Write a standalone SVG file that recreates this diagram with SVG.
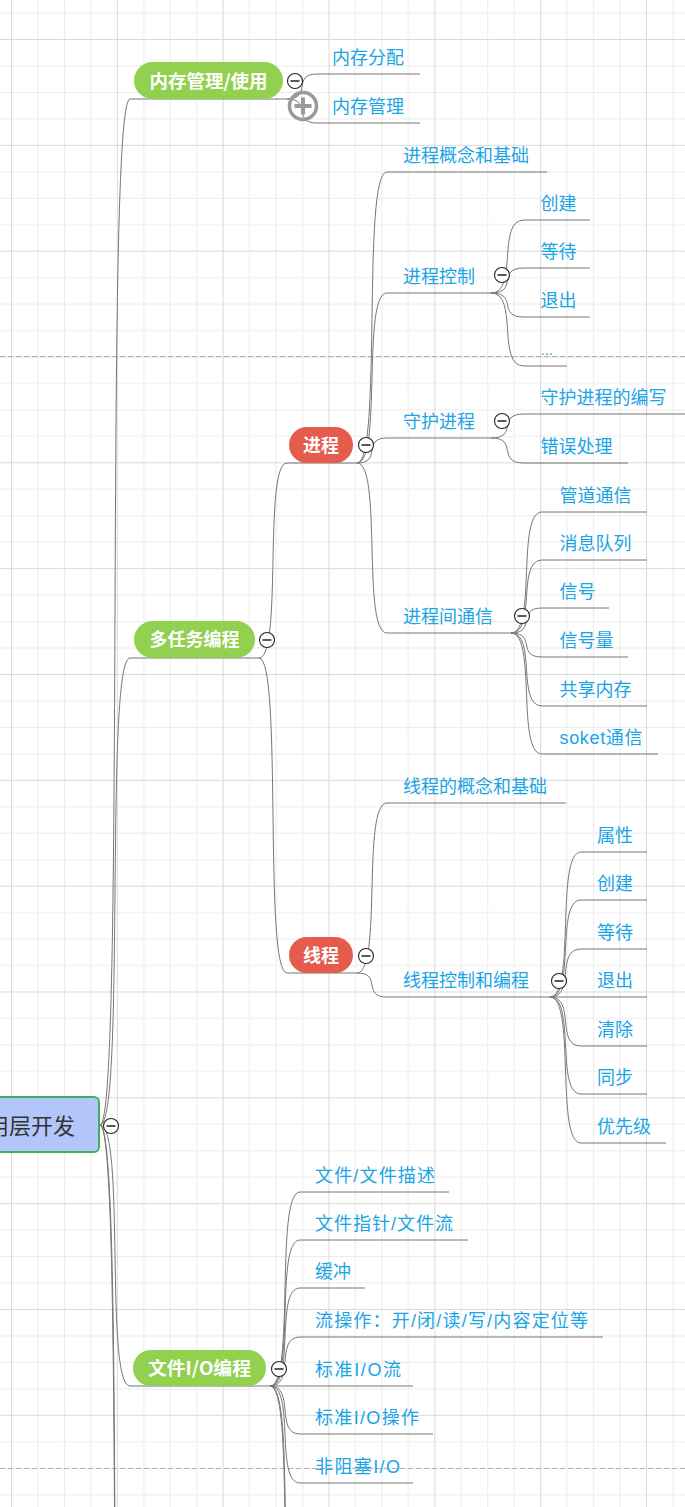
<svg xmlns="http://www.w3.org/2000/svg" width="685" height="1507" viewBox="0 0 685 1507">
<defs>
<pattern id="grid" patternUnits="userSpaceOnUse" x="11" y="39" width="105.83" height="105.83">
<rect x="0" y="0" width="105.83" height="105.83" fill="#ffffff"/>
<rect x="26.46" y="0" width="1" height="105.83" fill="#ececec"/>
<rect x="52.92" y="0" width="1" height="105.83" fill="#ececec"/>
<rect x="79.37" y="0" width="1" height="105.83" fill="#ececec"/>
<rect x="0" y="26.46" width="105.83" height="1" fill="#ececec"/>
<rect x="0" y="52.92" width="105.83" height="1" fill="#ececec"/>
<rect x="0" y="79.37" width="105.83" height="1" fill="#ececec"/>
<rect x="0" y="0" width="1" height="105.83" fill="#d9d9d9"/>
<rect x="0" y="0" width="105.83" height="1" fill="#d9d9d9"/>
</pattern>
<g id="minus">
<circle cx="0" cy="0" r="7.5" fill="#ffffff" stroke="#222" stroke-width="1.1"/>
<line x1="-4.5" y1="0" x2="4.5" y2="0" stroke="#222" stroke-width="1.5"/>
</g>
</defs>
<style>
.c{fill:none;stroke:#777;stroke-width:1}
.u{stroke:#777;stroke-width:1}
.t{font-family:"Liberation Sans","Noto Sans CJK SC",sans-serif;font-size:18px;fill:#19a4e6}
.p{font-family:"Noto Sans CJK SC",sans-serif;font-size:18px;font-weight:bold;fill:#ffffff;text-anchor:middle}
.g{fill:#92d050}
.r{fill:#e55b4e}
.dash{stroke:#b0b0b0;stroke-width:1;stroke-dasharray:5 3}
</style>
<rect x="0" y="0" width="685" height="1507" fill="url(#grid)"/>
<line class="dash" x1="0" y1="356.5" x2="685" y2="356.5"/>
<line class="dash" x1="0" y1="1468.5" x2="685" y2="1468.5"/>

<g id="connectors">
<path class="c" d="M100 1125 C125.5 1125 104.5 99 130 99"/>
<path class="c" d="M100 1125 C125.5 1125 104.5 658 130 658"/>
<path class="c" d="M100 1125 C125.5 1125 104.5 1386 130 1386"/>
<path class="c" d="M100 1125 C125.5 1125 104.5 1960 130 1960"/>
<path class="c" d="M100 1125 C125.5 1125 104.5 2100 130 2100"/>
<path class="c" d="M287 99 C312.5 99 291.5 74 317 74"/>
<path class="c" d="M287 99 C312.5 99 291.5 123 317 123"/>
<path class="c" d="M259 658 C282.8 658 263.2 463 287 463"/>
<path class="c" d="M259 658 C282.8 658 263.2 973 287 973"/>
<path class="c" d="M357 463 C382.5 463 361.5 172 387 172"/>
<path class="c" d="M357 463 C382.5 463 361.5 293 387 293"/>
<path class="c" d="M357 463 C382.5 463 361.5 438 387 438"/>
<path class="c" d="M357 463 C382.5 463 361.5 633 387 633"/>
<path class="c" d="M491 293 C519 293 496 220 524 220"/>
<path class="c" d="M491 293 C519 293 496 268 524 268"/>
<path class="c" d="M491 293 C519 293 496 317 524 317"/>
<path class="c" d="M491 293 C519 293 496 366 524 366"/>
<path class="c" d="M491 438 C519 438 496 414 524 414"/>
<path class="c" d="M491 438 C519 438 496 463 524 463"/>
<path class="c" d="M511 633 C537 633 516 512 542 512"/>
<path class="c" d="M511 633 C537 633 516 560 542 560"/>
<path class="c" d="M511 633 C537 633 516 608 542 608"/>
<path class="c" d="M511 633 C537 633 516 657 542 657"/>
<path class="c" d="M511 633 C537 633 516 706 542 706"/>
<path class="c" d="M511 633 C537 633 516 754 542 754"/>
<path class="c" d="M357 973 C382.5 973 361.5 803 387 803"/>
<path class="c" d="M357 973 C382.5 973 361.5 997 387 997"/>
<path class="c" d="M550 997 C576 997 555 852 581 852"/>
<path class="c" d="M550 997 C576 997 555 900 581 900"/>
<path class="c" d="M550 997 C576 997 555 949 581 949"/>
<path class="c" d="M550 997 L581 997"/>
<path class="c" d="M550 997 C576 997 555 1046 581 1046"/>
<path class="c" d="M550 997 C576 997 555 1094 581 1094"/>
<path class="c" d="M550 997 C576 997 555 1143 581 1143"/>
<path class="c" d="M270 1386 C295.5 1386 274.5 1192 300 1192"/>
<path class="c" d="M270 1386 C295.5 1386 274.5 1240 300 1240"/>
<path class="c" d="M270 1386 C295.5 1386 274.5 1288 300 1288"/>
<path class="c" d="M270 1386 C295.5 1386 274.5 1337 300 1337"/>
<path class="c" d="M270 1386 L300 1386"/>
<path class="c" d="M270 1386 C295.5 1386 274.5 1434 300 1434"/>
<path class="c" d="M270 1386 C295.5 1386 274.5 1483 300 1483"/>
<path class="c" d="M270 1386 C295.5 1386 274.5 1600 300 1600"/>
<path class="c" d="M270 1386 C295.5 1386 274.5 1650 300 1650"/>
</g>

<g id="root">
<rect x="-30" y="1097" width="129" height="55" rx="5" fill="#b3c6fb" stroke="#3cb05a" stroke-width="2"/>
<text x="75" y="1134" text-anchor="end" style="font-family:'Noto Sans CJK SC',sans-serif;font-size:22px;fill:#333333">用层开发</text>
<use href="#minus" x="111" y="1126"/>
</g>

<g id="n-mem">
<line class="u" x1="130" y1="99" x2="287" y2="99"/>
<rect class="g" x="134" y="62" width="149" height="37" rx="18.5"/>
<text class="p" x="208.5" y="87.5" textLength="118" lengthAdjust="spacingAndGlyphs">内存管理/使用</text>
<use href="#minus" x="295" y="81"/>
</g>
<g id="n-mem-alloc"><line class="u" x1="317" y1="74" x2="420" y2="74"/><text class="t" x="332" y="64">内存分配</text></g>
<g id="n-mem-mgmt"><line class="u" x1="317" y1="123" x2="420" y2="123"/><text class="t" x="332" y="113">内存管理</text></g>
<g id="expand-icon">
<circle cx="303" cy="106" r="13.5" fill="none" stroke="#9a9a9a" stroke-width="3.5"/>
<line x1="294.5" y1="106" x2="311.5" y2="106" stroke="#9a9a9a" stroke-width="4"/>
<line x1="303" y1="97.5" x2="303" y2="114.5" stroke="#9a9a9a" stroke-width="4"/>
</g>

<g id="n-multitask">
<line class="u" x1="130" y1="658" x2="259" y2="658"/>
<rect class="g" x="134" y="621" width="121" height="37" rx="18.5"/>
<text class="p" x="194.5" y="646">多任务编程</text>
<use href="#minus" x="267" y="640"/>
</g>

<g id="n-process">
<line class="u" x1="287" y1="463" x2="357" y2="463"/>
<rect class="r" x="289" y="427" width="64" height="36" rx="18"/>
<text class="p" x="321" y="451.5">进程</text>
<use href="#minus" x="366" y="445"/>
</g>
<g id="n-p-basic"><line class="u" x1="387" y1="172" x2="547" y2="172"/><text class="t" x="403" y="162">进程概念和基础</text></g>
<g id="n-p-ctrl"><line class="u" x1="387" y1="293" x2="491" y2="293"/><text class="t" x="403" y="283">进程控制</text><use href="#minus" x="502" y="275"/></g>
<g id="n-p-create"><line class="u" x1="524" y1="220" x2="590" y2="220"/><text class="t" x="540.5" y="210">创建</text></g>
<g id="n-p-wait"><line class="u" x1="524" y1="268" x2="590" y2="268"/><text class="t" x="540.5" y="258">等待</text></g>
<g id="n-p-exit"><line class="u" x1="524" y1="317" x2="590" y2="317"/><text class="t" x="540.5" y="307">退出</text></g>
<g id="n-p-more"><line class="u" x1="524" y1="366" x2="567" y2="366"/><text class="t" x="540.5" y="354.5" style="font-size:15px">...</text></g>
<g id="n-p-daemon"><line class="u" x1="387" y1="438" x2="491" y2="438"/><text class="t" x="403" y="428">守护进程</text><use href="#minus" x="502" y="421"/></g>
<g id="n-p-daemon-write"><line class="u" x1="524" y1="414" x2="690" y2="414"/><text class="t" x="540.5" y="404">守护进程的编写</text></g>
<g id="n-p-daemon-err"><line class="u" x1="524" y1="463" x2="628" y2="463"/><text class="t" x="540.5" y="453">错误处理</text></g>
<g id="n-p-ipc"><line class="u" x1="387" y1="633" x2="511" y2="633"/><text class="t" x="403" y="623">进程间通信</text><use href="#minus" x="522" y="616"/></g>
<g id="n-ipc-pipe"><line class="u" x1="542" y1="512" x2="647" y2="512"/><text class="t" x="559.5" y="502">管道通信</text></g>
<g id="n-ipc-mq"><line class="u" x1="542" y1="560" x2="647" y2="560"/><text class="t" x="559.5" y="550">消息队列</text></g>
<g id="n-ipc-sig"><line class="u" x1="542" y1="608" x2="609" y2="608"/><text class="t" x="559.5" y="598">信号</text></g>
<g id="n-ipc-sem"><line class="u" x1="542" y1="657" x2="628" y2="657"/><text class="t" x="559.5" y="647">信号量</text></g>
<g id="n-ipc-shm"><line class="u" x1="542" y1="706" x2="647" y2="706"/><text class="t" x="559.5" y="696">共享内存</text></g>
<g id="n-ipc-sock"><line class="u" x1="542" y1="754" x2="658" y2="754"/><text class="t" x="559.5" y="744" textLength="83" lengthAdjust="spacing">soket通信</text></g>

<g id="n-thread">
<line class="u" x1="287" y1="973" x2="357" y2="973"/>
<rect class="r" x="289" y="937" width="64" height="36" rx="18"/>
<text class="p" x="321" y="961.5">线程</text>
<use href="#minus" x="366" y="956"/>
</g>
<g id="n-t-basic"><line class="u" x1="387" y1="803" x2="566" y2="803"/><text class="t" x="403" y="793">线程的概念和基础</text></g>
<g id="n-t-ctrl"><line class="u" x1="387" y1="997" x2="550" y2="997"/><text class="t" x="403" y="987">线程控制和编程</text><use href="#minus" x="559" y="981"/></g>
<g id="n-t-attr"><line class="u" x1="581" y1="852" x2="647" y2="852"/><text class="t" x="597" y="842">属性</text></g>
<g id="n-t-create"><line class="u" x1="581" y1="900" x2="647" y2="900"/><text class="t" x="597" y="890">创建</text></g>
<g id="n-t-wait"><line class="u" x1="581" y1="949" x2="647" y2="949"/><text class="t" x="597" y="939">等待</text></g>
<g id="n-t-exit"><line class="u" x1="581" y1="997" x2="647" y2="997"/><text class="t" x="597" y="987">退出</text></g>
<g id="n-t-clean"><line class="u" x1="581" y1="1046" x2="647" y2="1046"/><text class="t" x="597" y="1036">清除</text></g>
<g id="n-t-sync"><line class="u" x1="581" y1="1094" x2="647" y2="1094"/><text class="t" x="597" y="1084">同步</text></g>
<g id="n-t-prio"><line class="u" x1="581" y1="1143" x2="666" y2="1143"/><text class="t" x="597" y="1133">优先级</text></g>

<g id="n-fileio">
<line class="u" x1="130" y1="1386" x2="270" y2="1386"/>
<rect class="g" x="133" y="1350" width="133" height="36" rx="18"/>
<text class="p" x="199.5" y="1374.5" textLength="103" lengthAdjust="spacingAndGlyphs">文件I/O编程</text>
<use href="#minus" x="279" y="1369"/>
</g>
<g id="n-f-desc"><line class="u" x1="300" y1="1192" x2="449" y2="1192"/><text class="t" x="315" y="1182" textLength="120" lengthAdjust="spacing">文件/文件描述</text></g>
<g id="n-f-ptr"><line class="u" x1="300" y1="1240" x2="468" y2="1240"/><text class="t" x="315" y="1230" textLength="138" lengthAdjust="spacing">文件指针/文件流</text></g>
<g id="n-f-buf"><line class="u" x1="300" y1="1288" x2="365" y2="1288"/><text class="t" x="315" y="1278">缓冲</text></g>
<g id="n-f-ops"><line class="u" x1="300" y1="1337" x2="603" y2="1337"/><text class="t" x="315" y="1327" textLength="273" lengthAdjust="spacing">流操作：开/闭/读/写/内容定位等</text></g>
<g id="n-f-stdstream"><line class="u" x1="300" y1="1386" x2="413" y2="1386"/><text class="t" x="315" y="1376" textLength="86" lengthAdjust="spacing">标准I/O流</text></g>
<g id="n-f-stdops"><line class="u" x1="300" y1="1434" x2="433" y2="1434"/><text class="t" x="315" y="1424" textLength="104" lengthAdjust="spacing">标准I/O操作</text></g>
<g id="n-f-nonblock"><line class="u" x1="300" y1="1483" x2="413" y2="1483"/><text class="t" x="315" y="1473" textLength="85" lengthAdjust="spacing">非阻塞I/O</text></g>
</svg>
